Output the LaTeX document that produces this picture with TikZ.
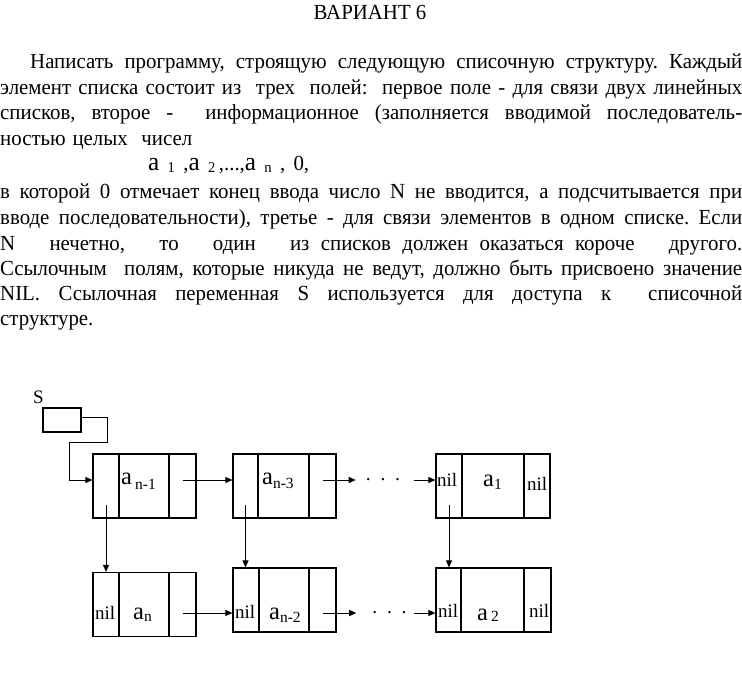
\documentclass[tikz,border=0pt]{standalone}
\usepackage{fontspec}
\setmainfont{Liberation Serif}
\newfontfamily\bodyfont[FakeStretch=0.97]{Liberation Serif}
\usetikzlibrary{arrows.meta}
\frenchspacing
\newcommand\myA{{\fontsize{24.5}{24.5}\selectfont a}}
\newcommand\mysub[2][3pt]{\raisebox{-#1}{\fontsize{15.5}{15.5}\selectfont #2}}
\newcommand\fA{{\fontsize{26}{26}\selectfont a}}
\newcommand\fsub[1]{\raisebox{-1.5pt}{\fontsize{15}{15}\selectfont #1}}
\begin{document}
\begin{tikzpicture}[x=1pt,y=-1pt,
  field/.style={draw, line width=1.2pt, minimum height=64pt, inner sep=0pt},
  sboxst/.style={draw, line width=1.2pt, minimum width=38pt, minimum height=24pt, inner sep=0pt},
  arr/.style={line width=0.9pt, -{Triangle[length=7pt,width=6pt]}},
  txt/.style={anchor=base west, inner sep=0pt, font=\bodyfont\fontsize{21.5}{24}\selectfont},
  lbl/.style={anchor=base west, inner sep=0pt, font=\fontsize{19}{19}\selectfont},
  dots/.style={inner sep=0pt, font=\fontsize{19.5}{19.5}\selectfont},
]
\useasboundingbox (0,0) rectangle (742,674);

% ---------- text ----------
\node[anchor=base, inner sep=0pt, font=\bodyfont\fontsize{21.5}{21.5}\selectfont] (title) at (370,20) {ВАРИАНТ 6};
\node[txt] (t1) at (30,69) {\makebox[712pt][s]{Написать программу, строящую следующую списочную структуру. Каждый}};
\node[txt] (t2) at (0,95) {\makebox[742pt][s]{элемент списка состоит из\ \ трех\ \ полей:\ \ первое поле - для связи двух линейных}};
\node[txt] (t3) at (0,120) {\makebox[742pt][s]{списков, второе -\ \ информационное (заполняется вводимой последователь-}};
\node[txt] (t4) at (0,146) {\makebox[192pt][s]{ностью целых\ \ чисел}};
\node[txt] (formula) at (148,171) {\makebox[161pt][s]{\fA\ \fsub{1}\ ,\fA\ \fsub{2}\,,...,\fA\ \fsub{n}\ , 0,}};
\node[txt] (t6) at (0,199) {\makebox[742pt][s]{в которой 0 отмечает конец ввода число N не вводится, а подсчитывается при}};
\node[txt] (t7) at (0,225) {\makebox[742pt][s]{вводе последовательности), третье - для связи элементов в одном списке. Если}};
\node[txt] (t8) at (0,250.5) {\makebox[742pt][s]{N\ \ \ нечетно,\ \ \ то\ \ \ один\ \ \ из списков должен оказаться короче\ \ \ другого.}};
\node[txt] (t9) at (0,275.5) {\makebox[742pt][s]{Ссылочным\ \ полям, которые никуда не ведут, должно быть присвоено значение}};
\node[txt] (t10) at (0,300.5) {\makebox[742pt][s]{NIL. Ссылочная переменная S используется для доступа к\ \ списочной}};
\node[txt] (t11) at (0,325.5) {структуре.};

% ---------- diagram ----------
\node[lbl] (S) at (33,403) {S};
\node[sboxst] (sbox) at (62,420) {};

% top row
\node[field, minimum width=26pt] (n1a) at (106,486) {};
\node[field, minimum width=50pt] (n1b) at (144,486) {};
\node[field, minimum width=27pt] (n1c) at (182.5,486) {};
\node[field, minimum width=25pt] (n2a) at (245.5,486) {};
\node[field, minimum width=51pt] (n2b) at (283.5,486) {};
\node[field, minimum width=27pt] (n2c) at (322.5,486) {};
\node[field, minimum width=26pt] (n3a) at (449,486) {};
\node[field, minimum width=62pt] (n3b) at (493,486) {};
\node[field, minimum width=26pt] (n3c) at (537,486) {};
% bottom row
\node[field, minimum width=26pt] (n4a) at (106,604.5) {};
\node[field, minimum width=50pt] (n4b) at (144,604.5) {};
\node[field, minimum width=27pt] (n4c) at (182.5,604.5) {};
\node[field, minimum width=26pt] (n5a) at (246,600) {};
\node[field, minimum width=50pt] (n5b) at (284,600) {};
\node[field, minimum width=27pt] (n5c) at (322.5,600) {};
\node[field, minimum width=25pt] (n6a) at (448.5,600) {};
\node[field, minimum width=63pt] (n6b) at (492.5,600) {};
\node[field, minimum width=27pt] (n6c) at (537.5,600) {};

% labels
\node[lbl] (l1) at (121,484) {\myA\,\mysub[5pt]{n-1}};
\node[lbl] (l2) at (262,484) {\myA\mysub[4pt]{n-3}};
\node[lbl] (l3a) at (437,486.5) {nil};
\node[lbl] (l3b) at (483,486) {\myA\mysub[3pt]{1}};
\node[lbl] (l3c) at (527,490) {nil};
\node[lbl] (l4a) at (95,619) {nil};
\node[lbl] (l4b) at (133,619) {\myA\mysub[2pt]{n}};
\node[lbl] (l5a) at (235,618) {nil};
\node[lbl] (l5b) at (269,619) {\myA\mysub[3pt]{n-2}};
\node[lbl] (l6a) at (438,617) {nil};
\node[lbl] (l6b) at (477,620) {\myA\,\mysub[1pt]{2}};
\node[lbl] (l6c) at (529,617) {nil};

\node[dots] (topdots) at (383,480) {.\ \ .\ \ .};
\node[dots] (botdots) at (389.5,613) {.\ \ .\ \ .};

% connectors
\draw[arr] ([yshift=3pt]sbox.east) -| (107,442) -| (69,480) -- ([yshift=6pt]n1a.west);
\draw[arr] ([yshift=6pt]n1c.center) -- ([yshift=6pt]n2a.west);
\draw[arr] ([yshift=6pt]n2c.center) -- ([xshift=-10pt]topdots.west);
\draw[arr] ([xshift=14pt]topdots.east) -- ([yshift=6pt]n3a.west);
\draw[arr] ([yshift=-8.5pt]n4c.center) -- ([yshift=-13pt]n5a.west);
\draw[arr] ([yshift=-13pt]n5c.center) -- ([xshift=-16pt]botdots.west);
\draw[arr] ([xshift=7pt]botdots.east) -- ([yshift=-13pt]n6a.west);
\draw[arr] ([yshift=-19pt]n1a.center) -- (n4a.north -| n1a.center);
\draw[arr] ([yshift=-19pt]n2a.center) -- (n5a.north -| n2a.center);
\draw[arr] ([yshift=-19pt]n3a.center) -- (n6a.north -| n3a.center);
\end{tikzpicture}
\end{document}
